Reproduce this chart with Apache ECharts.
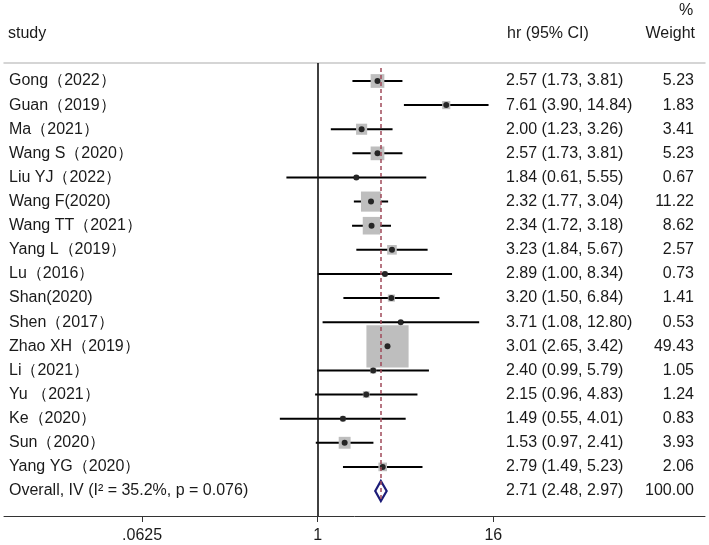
<!DOCTYPE html>
<html lang="en">
<head>
<meta charset="UTF-8" />
<script src="https://cdn.jsdelivr.net/npm/echarts@6/dist/echarts.min.js"></script>
<title>Forest plot</title>
<style>html, body { margin: 0; padding: 0; background: #fff; }</style>
</head>
<body>
<div id="main" style="width: 709px; height: 545px"></div>
<script>
  // data
  const studies = ["Gong（2022）", "Guan（2019）", "Ma（2021）", "Wang S（2020）", "Liu YJ（2022）", "Wang F(2020)",
    "Wang TT（2021）", "Yang L（2019）", "Lu（2016）", "Shan(2020)", "Shen（2017）", "Zhao XH（2019）",
    "Li（2021）", "Yu （2021）", "Ke（2020）", "Sun（2020）", "Yang YG（2020）"];
  const hr = [2.57, 7.61, 2.00, 2.57, 1.84, 2.32, 2.34, 3.23, 2.89, 3.20, 3.71, 3.01, 2.40, 2.15, 1.49, 1.53, 2.79];
  const ciLow = [1.73, 3.90, 1.23, 1.73, 0.61, 1.77, 1.72, 1.84, 1.00, 1.50, 1.08, 2.65, 0.99, 0.96, 0.55, 0.97, 1.49];
  const ciHigh = [3.81, 14.84, 3.26, 3.81, 5.55, 3.04, 3.18, 5.67, 8.34, 6.84, 12.80, 3.42, 5.79, 4.83, 4.01, 2.41, 5.23];
  const weight = [5.23, 1.83, 3.41, 5.23, 0.67, 11.22, 8.62, 2.57, 0.73, 1.41, 0.53, 49.43, 1.05, 1.24, 0.83, 3.93, 2.06];
  const overallLabel = "Overall, IV (I² = 35.2%, p = 0.076)";
  const overall = [2.71, 2.48, 2.97]; // hr, low, high
  const overallWeight = 100.0;
  const tickValues = [0.0625, 1, 16];
  const tickLabels = [".0625", "1", "16"];

  const FAMILY = '"Liberation Sans", Arial, sans-serif';
  const FONT = "16px " + FAMILY;
  const TXT = "#1a1a1a";
  const n = studies.length;
  const l2 = (v) => Math.log2(v);
  const xMin = -7.146, xMax = 8.822;
  const yMin = -0.746, yMax = 18.036;

  const labels = studies.concat([overallLabel]);
  const ciText = hr.map((h, i) => `${h.toFixed(2)} (${ciLow[i].toFixed(2)}, ${ciHigh[i].toFixed(2)})`)
    .concat([`${overall[0].toFixed(2)} (${overall[1].toFixed(2)}, ${overall[2].toFixed(2)})`]);
  const wText = weight.map((w) => w.toFixed(2)).concat([overallWeight.toFixed(2)]);

  const chart = echarts.init(document.getElementById("main"));

  const option = {
    animation: false,
    grid: { left: 4, right: 4, top: 63, bottom: 29 },
    xAxis: [
      {
        type: "value", min: xMin, max: xMax,
        axisLine: { onZero: false, lineStyle: { color: "#333", width: 1 } },
        splitLine: { show: false },
        axisTick: { customValues: tickValues.map(l2), length: 6, lineStyle: { color: "#333" } },
        axisLabel: {
          customValues: tickValues.map(l2), margin: 12, fontSize: 16, color: TXT, fontFamily: FAMILY,
          formatter: (v) => tickLabels[tickValues.findIndex((t) => Math.abs(l2(t) - v) < 1e-6)],
        },
      },
      {
        type: "value", position: "top", min: xMin, max: xMax,
        axisLine: { onZero: false, lineStyle: { color: "#c8c8c8", width: 1.5 } },
        axisTick: { show: false }, axisLabel: { show: false }, splitLine: { show: false },
      },
    ],
    yAxis: { type: "value", inverse: true, min: yMin, max: yMax, show: false },
    graphic: [
      { type: "text", x: 8, y: 34, style: { text: "study", font: FONT, fill: TXT, verticalAlign: "middle" } },
      { type: "text", x: 507, y: 34, style: { text: "hr (95% CI)", font: FONT, fill: TXT, verticalAlign: "middle" } },
      { type: "text", x: 695, y: 34, style: { text: "Weight", font: FONT, fill: TXT, align: "right", verticalAlign: "middle" } },
      { type: "text", x: 686, y: 11, style: { text: "%", font: FONT, fill: TXT, align: "center", verticalAlign: "middle" } },
    ],
    series: [
      {
        // weight boxes
        type: "scatter", symbol: "rect",
        data: hr.map((h, i) => [l2(h), i, weight[i]]),
        symbolSize: (v) => 6 * Math.sqrt(v[2]),
        itemStyle: { color: "#bebebe", opacity: 1 },
        silent: true,
      },
      {
        // confidence intervals
        type: "custom",
        data: hr.map((h, i) => [l2(ciLow[i]), l2(ciHigh[i]), i]),
        encode: { x: [0, 1], y: 2 },
        renderItem: (params, api) => {
          const a = api.coord([api.value(0), api.value(2)]);
          const b = api.coord([api.value(1), api.value(2)]);
          return { type: "line", shape: { x1: a[0], y1: a[1], x2: b[0], y2: b[1] }, style: { stroke: "#000", lineWidth: 2 } };
        },
        markLine: {
          silent: true, symbol: "none", label: { show: false },
          data: [
            { xAxis: 0, lineStyle: { color: "#111", width: 1.6, type: "solid" } },
            [
              { coord: [l2(overall[0]), -0.54], lineStyle: { color: "#a04a5a", width: 1.5, type: [4, 3] } },
              { coord: [l2(overall[0]), 17.45] },
            ],
          ],
        },
        silent: true,
      },
      {
        // point estimates
        type: "scatter", symbol: "circle", symbolSize: 6,
        data: hr.map((h, i) => [l2(h), i]),
        itemStyle: { color: "#000" },
        silent: true,
      },
      {
        // overall diamond
        type: "custom",
        data: [[l2(overall[1]), l2(overall[0]), l2(overall[2]), n]],
        encode: { x: [0, 1, 2], y: 3 },
        renderItem: (params, api) => {
          const lft = api.coord([api.value(0), api.value(3)]);
          const mid = api.coord([api.value(1), api.value(3)]);
          const rgt = api.coord([api.value(2), api.value(3)]);
          return {
            type: "polygon",
            shape: { points: [lft, [mid[0], mid[1] - 10], rgt, [mid[0], mid[1] + 10]] },
            style: { fill: "none", stroke: "#1c1c78", lineWidth: 2.2 },
          };
        },
        silent: true,
      },
      {
        // text columns
        type: "custom",
        data: labels.map((s, i) => [0, i]),
        encode: { x: 0, y: 1 },
        renderItem: (params, api) => {
          const i = params.dataIndex;
          const y = api.coord([0, api.value(1)])[1];
          return {
            type: "group",
            children: [
              { type: "text", style: { text: labels[i], x: 9, y: y, font: FONT, fill: TXT, verticalAlign: "middle" } },
              { type: "text", style: { text: ciText[i], x: 506, y: y, font: FONT, fill: TXT, verticalAlign: "middle" } },
              { type: "text", style: { text: wText[i], x: 694, y: y, font: FONT, fill: TXT, align: "right", verticalAlign: "middle" } },
            ],
          };
        },
        silent: true,
      },
    ],
  };
  chart.setOption(option);
</script>
</body>
</html>
